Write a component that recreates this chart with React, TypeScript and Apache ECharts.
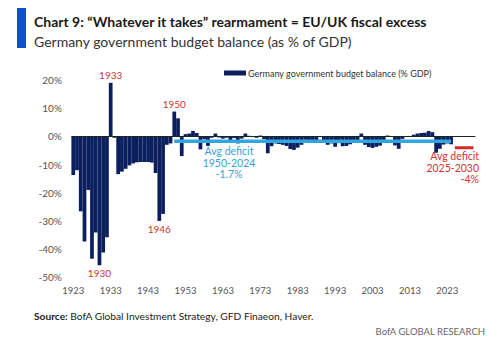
import React, { useEffect, useRef } from "react";
import * as echarts from "echarts";

const FIRST_YEAR = 1923;
const LAST_YEAR = 2030;
const years: string[] = [];
for (let y = FIRST_YEAR; y <= LAST_YEAR; y++) years.push(String(y));

// Germany government budget balance (% GDP), 1923-2024
const balance1920s = [-13.7, -12.0, -26.6, -37.3, -19.0, -43.4, -34.1]; // 1923-1929
const balance1930s = [-45.7, -41.2, -35.8, 19.0, -0.5, -13.4, -12.5, -11.5, -10.3, -9.6];
const balance1940s = [-9.2, -9.1, -9.1, -9.1, -9.3, -13.0, -30.0, -27.5, -3.0, -2.5];
const balance1950s = [8.8, 6.4, -7.0, 0.8, 1.0, 1.9, 1.2, -4.6, -1.0, -3.4];
const balance1960s = [-0.5, 1.0, -0.4, -0.8, -0.5, -2.0, -0.6, -2.5, -0.8, 1.0];
const balance1970s = [0.2, -0.2, -0.5, 0.3, -1.0, -6.0, -3.5, -2.5, -2.7, -3.0];
const balance1980s = [-3.4, -4.5, -4.8, -4.0, -3.0, -1.2, -1.3, -2.0, -2.2, 0.1];
const balance1990s = [-2.0, -3.0, -2.5, -3.7, -2.4, -3.5, -3.4, -2.8, -2.3, -1.6];
const balance2000s = [1.0, -3.0, -3.8, -4.1, -3.7, -3.3, -1.6, 0.3, -0.1, -3.2];
const balance2010s = [-4.4, -0.9, 0.0, 0.0, 0.6, 1.0, 1.2, 1.3, 1.9, 1.5];
const balance2020s = [-5.8, -4.4, -2.9, -2.5, -2.8];

const balance = [
  ...balance1920s, ...balance1930s, ...balance1940s, ...balance1950s,
  ...balance1960s, ...balance1970s, ...balance1980s, ...balance1990s,
  ...balance2000s, ...balance2010s, ...balance2020s,
];

const AVG_PAST = -1.7; // 1950-2024
const AVG_PAST_FROM = 1950;
const AVG_PAST_TO = 2024;
const AVG_FUTURE = -4; // 2025-2030
const AVG_FUTURE_FROM = 2025;
const AVG_FUTURE_TO = 2030;

const yearLabels: Record<number, string> = { 1930: "1930", 1933: "1933", 1946: "1946", 1950: "1950" };

const yTicks = [-50, -40, -30, -20, -10, 0, 10, 20];

const NAVY = "#0b1f5e";
const LIGHT_BLUE = "#2ea6e0";
const RED = "#d8262b";
const FONT = "Lato";

export default function App() {
  const ref = useRef<HTMLDivElement>(null);
  useEffect(() => {
    if (!ref.current) return;
    const chart = echarts.init(ref.current, undefined, { renderer: "svg" });

    const barData = balance.map((v, i) => {
      const yr = FIRST_YEAR + i;
      if (yearLabels[yr]) {
        return {
          value: v,
          label: {
            show: true,
            position: "outside",
            distance: 3,
            formatter: yearLabels[yr],
            color: "#cc3333",
            fontSize: 10,
            fontFamily: FONT,
          },
        };
      }
      return v;
    });

    const pastAvg = years.map((y) => {
      const n = Number(y);
      return n >= AVG_PAST_FROM && n <= AVG_PAST_TO ? AVG_PAST : null;
    });
    const futureAvg = years.map((y) => {
      const n = Number(y);
      return n >= AVG_FUTURE_FROM && n <= AVG_FUTURE_TO ? AVG_FUTURE : null;
    });

    chart.setOption({
      animation: false,
      backgroundColor: "#ffffff",
      textStyle: { fontFamily: FONT },
      grid: { left: 71.4, right: 24.6, top: 80, bottom: 74.7, containLabel: false },
      legend: {
        left: 224,
        top: 68.5,
        padding: 0,
        itemWidth: 22,
        itemHeight: 5,
        icon: "rect",
        data: ["Germany government budget balance (% GDP)"],
        textStyle: { fontSize: 9, color: "#333", fontFamily: FONT, padding: [0, 0, 0, -3] },
      },
      xAxis: {
        type: "category",
        data: years,
        boundaryGap: true,
        axisLine: { show: false },
        axisTick: { show: false },
        axisLabel: { interval: 9, fontSize: 9.5, color: "#555", margin: 8, fontFamily: FONT },
        splitLine: { show: false },
      },
      yAxis: {
        type: "value",
        min: yTicks[0],
        max: yTicks[yTicks.length - 1],
        interval: 10,
        axisLine: { show: false },
        axisTick: { show: false },
        splitLine: { show: false },
        axisLabel: { formatter: "{value}%", fontSize: 10, color: "#555", margin: 9.5, fontFamily: FONT },
      },
      series: [
        {
          name: "Germany government budget balance (% GDP)",
          type: "bar",
          data: barData,
          barCategoryGap: "0%",
          itemStyle: { color: NAVY },
          markLine: {
            silent: true,
            symbol: ["none", "none"],
            label: { show: false },
            lineStyle: { color: "#222", width: 1, type: "solid" },
            data: [{ yAxis: 0 }],
          },
        },
        {
          name: "avgPast",
          type: "line",
          data: pastAvg,
          showSymbol: false,
          symbol: "none",
          lineStyle: { color: LIGHT_BLUE, width: 3.5 },
          z: 5,
        },
        {
          name: "avgFuture",
          type: "line",
          data: futureAvg,
          showSymbol: false,
          symbol: "none",
          lineStyle: { color: RED, width: 3 },
          z: 5,
        },
      ],
      graphic: [
        { type: "rect", shape: { x: 17, y: 8, width: 9, height: 40 }, style: { fill: "#1150c8" } },
        {
          type: "text",
          x: 34,
          y: 21.5,
          style: {
            text: "Chart 9: \u201cWhatever it takes\u201d rearmament = EU/UK fiscal excess",
            fontSize: 14,
            fontWeight: "bold",
            fontFamily: FONT,
            fill: "#1a1a1a",
            verticalAlign: "middle",
          },
        },
        {
          type: "text",
          x: 34,
          y: 41,
          style: {
            text: "Germany government budget balance (as % of GDP)",
            fontSize: 14,
            fontFamily: FONT,
            fill: "#333",
            verticalAlign: "middle",
          },
        },
        {
          type: "text",
          x: 229,
          y: 145.5,
          style: {
            text: "Avg deficit\n1950-2024\n-1.7%",
            fontSize: 10.5,
            lineHeight: 11.5,
            fontFamily: FONT,
            fill: "#3a9fd6",
            align: "center",
            verticalAlign: "top",
          },
        },
        {
          type: "text",
          x: 479,
          y: 150.5,
          style: {
            text: "Avg deficit\n2025-2030\n-4%",
            fontSize: 10.5,
            lineHeight: 11.5,
            fontFamily: FONT,
            fill: "#cc3333",
            align: "right",
            verticalAlign: "top",
          },
        },
        {
          type: "text",
          x: 34,
          y: 316,
          style: {
            text: "{b|Source:} BofA Global Investment Strategy, GFD Finaeon, Haver.",
            fontSize: 10.2,
            fontFamily: FONT,
            fill: "#222",
            verticalAlign: "middle",
            rich: { b: { fontWeight: "bold", fontSize: 10.2, fontFamily: FONT, fill: "#222" } },
          },
        },
        {
          type: "text",
          x: 485,
          y: 331.5,
          style: {
            text: "BofA GLOBAL RESEARCH",
            fontSize: 9.5,
            fontFamily: FONT,
            fill: "#666",
            align: "right",
            verticalAlign: "middle",
          },
        },
      ],
    });
    return () => chart.dispose();
  }, []);
  return (
    <div
      ref={ref}
      style={{ position: "fixed", left: 0, top: 0, width: 500, height: 352, background: "#fff" }}
    />
  );
}
